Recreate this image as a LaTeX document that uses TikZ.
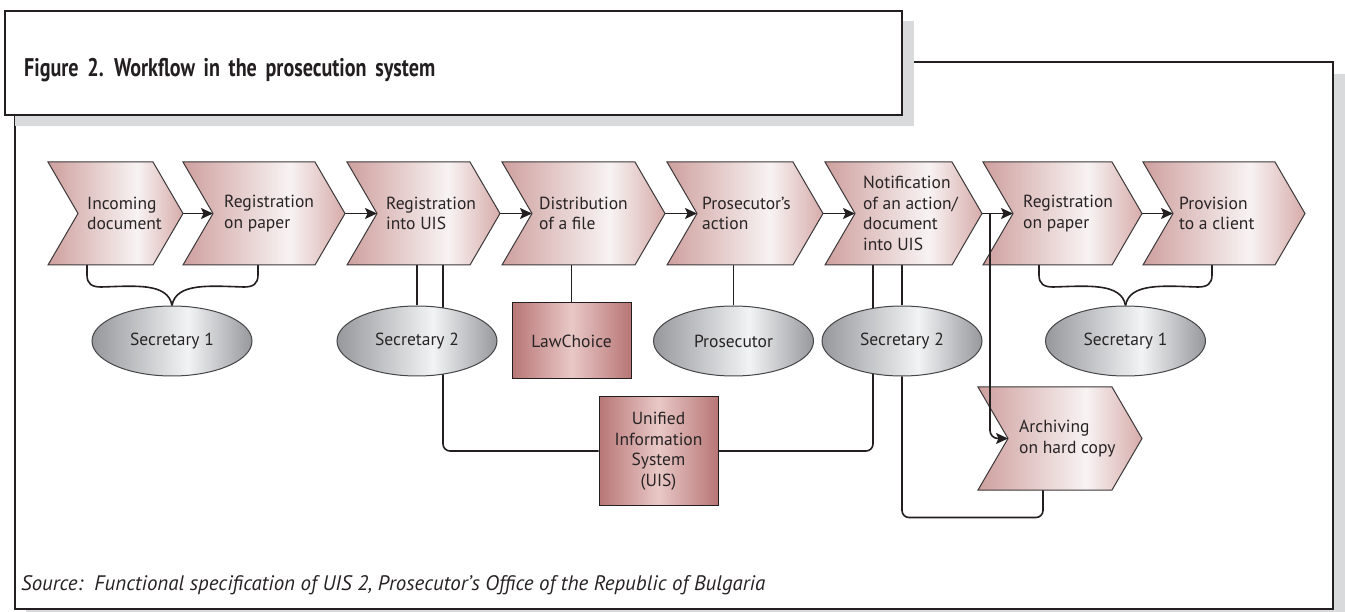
\documentclass[tikz,border=0pt]{standalone}
\usepackage{fontspec}
\setmainfont{PT Sans}
\newfontfamily\titlefont[WordSpace=1.7]{PT Sans}
\usetikzlibrary{shapes.geometric,arrows.meta,backgrounds,calc}
\definecolor{lineC}{RGB}{35,31,32}
\definecolor{textC}{RGB}{40,36,37}
\definecolor{shadowC}{RGB}{217,218,220}
\definecolor{chevL}{RGB}{206,160,158}
\definecolor{chevM}{RGB}{248,243,243}
\definecolor{chevR}{RGB}{214,172,170}
\definecolor{chevO}{RGB}{60,56,57}
\definecolor{boxE}{RGB}{184,118,118}
\definecolor{boxM}{RGB}{232,200,198}
\definecolor{ellE}{RGB}{150,152,156}
\definecolor{ellM}{RGB}{242,243,244}
\definecolor{ellO}{RGB}{70,70,72}
\pgfdeclarehorizontalshading{chevsh}{100bp}{color(0bp)=(chevL); color(25bp)=(chevL); color(58bp)=(chevM); color(75bp)=(chevR); color(100bp)=(chevR)}
\pgfdeclarehorizontalshading{boxsh}{100bp}{color(0bp)=(boxE); color(25bp)=(boxE); color(50bp)=(boxM); color(75bp)=(boxE); color(100bp)=(boxE)}
\pgfdeclarehorizontalshading{ellsh}{100bp}{color(0bp)=(ellE); color(25bp)=(ellE); color(55bp)=(ellM); color(75bp)=(ellE); color(100bp)=(ellE)}
\newcommand\bodyfont{\fontsize{17.5pt}{20.5pt}\selectfont}
\newcommand\mkchev[6]{%
  \node[chevbase, minimum width=#4pt] (#1) at (#2,#3) {};
  \path[chevpath] (#1.north west) -- ([xshift=-30pt]#1.north east) -- (#1.east)
    -- ([xshift=-30pt]#1.south east) -- (#1.south west) -- ([xshift=30pt]#1.west) -- cycle;
  \node[chevtext] (#1t) at ([xshift=#5pt]#1.west) {#6};
}
\begin{document}
\begin{tikzpicture}[x=1pt,y=-1pt,
  conn/.style={draw=lineC, line width=1.6pt},
  flow/.style={conn, -{Stealth[length=12pt,width=11pt,inset=2.5pt]}},
  chevbase/.style={rectangle, inner sep=0pt, outer sep=0pt, minimum height=103pt},
  chevpath/.style={shade, shading=chevsh, draw=chevO, line width=1pt},
  chevtext/.style={align=left, inner sep=0pt, text=textC, font=\bodyfont, anchor=west},
  actor/.style={ellipse, draw=ellO, line width=1pt, shade, shading=ellsh, minimum width=160pt, minimum height=70pt, inner sep=0pt, font=\bodyfont, text=textC},
  sysbox/.style={rectangle, draw=lineC, line width=1pt, shade, shading=boxsh, minimum width=119pt, inner sep=0pt, font=\bodyfont, align=center, text=textC},
  frame/.style={draw=lineC, line width=2pt, fill=white},
  shadow/.style={fill=shadowC, draw=none}]
\useasboundingbox (0,0) rectangle (1345,612);

% chevrons
\mkchev{c1}{115.5}{213.5}{135}{39}{Incoming\\document}
\mkchev{c2}{264}{213.5}{162}{41}{Registration\\on paper}
\mkchev{c3}{423.5}{213.5}{153}{39}{Registration\\into UIS}
\mkchev{c4}{583.5}{213.5}{163}{37}{Distribution\\of a file}
\mkchev{c5}{745}{213.5}{156}{35}{Prosecutor’s\\action}
\mkchev{c6}{903.5}{213.5}{157}{38}{Notification\\of an action/\\document\\into UIS}
\mkchev{c7}{1062.5}{213.5}{159}{40}{Registration\\on paper}
\mkchev{c8}{1224}{213.5}{162}{36}{Provision\\to a client}
\mkchev{c9}{1060}{438.5}{164}{41}{Archiving\\on hard copy}

% actors and systems
\node[actor] (e1) at (172,341) {Secretary 1};
\node[actor] (e2) at (417,341) {Secretary 2};
\node[actor] (e3) at (733.5,341) {Prosecutor};
\node[actor] (e4) at (902,341) {Secretary 2};
\node[actor] (e5) at (1125.5,341) {Secretary 1};
\node[sysbox, minimum height=76pt] (law) at (571.5,341) {LawChoice};
\node[sysbox, minimum height=108pt] (uis) at (658.5,451) {Unified\\Information\\System\\(UIS)};

% texts
\node[anchor=base west, inner sep=0pt, text=lineC] (title) at (24,77)
  {\titlefont\fontsize{25.5pt}{28pt}\selectfont\bfseries\resizebox{411pt}{\height}{Figure 2. Workflow in the prosecution system}};
\node[anchor=base west, inner sep=0pt, text=textC] (src) at (21,590)
  {\fontsize{21pt}{24pt}\selectfont\itshape\resizebox{744pt}{\height}{Source:\ \ Functional specification of UIS 2, Prosecutor’s Office of the Republic of Bulgaria}};

% archiving branch (on top of chevrons)
\coordinate (j) at ([xshift=8pt]c6.east);
\draw[flow, rounded corners=8pt] (j) |- ([xshift=30pt]c9.west);

\begin{pgfonlayer}{background}
  % frames
  \path[shadow] (26,74) rectangle (1352,625);
  \path[frame] (15,62) rectangle (1333,609);
  \path[shadow] (15,21) rectangle (914,126);
  \path[frame] (5,11) rectangle (902,115);
  % flow arrows
  \draw[flow] (c1.east) -- ([xshift=30pt]c2.west);
  \draw[flow] (c2.east) -- ([xshift=30pt]c3.west);
  \draw[flow] (c3.east) -- ([xshift=30pt]c4.west);
  \draw[flow] (c4.east) -- ([xshift=30pt]c5.west);
  \draw[flow] (c5.east) -- ([xshift=30pt]c6.west);
  \draw[flow] (c6.east) -- ([xshift=30pt]c7.west);
  \draw[flow] (c7.east) -- ([xshift=30pt]c8.west);
  % braces
  \draw[conn] ([xshift=39pt]c1.south west) -- ++(0,10) .. controls +(0,9) and +(-9,0) .. ++(14,12)
     .. controls +(34,-1) and +(-4,-23) .. (e1.north);
  \draw[conn] ([xshift=75pt]c2.south west) -- ++(0,10) .. controls +(0,9) and +(9,0) .. ++(-14,12)
     .. controls +(-34,-1) and +(4,-23) .. (e1.north);
  \draw[conn] ([xshift=56pt]c7.south west) -- ++(0,10) .. controls +(0,9) and +(-9,0) .. ++(14,12)
     .. controls +(34,-1) and +(-4,-23) .. (e5.north);
  \draw[conn] ([xshift=69pt]c8.south west) -- ++(0,10) .. controls +(0,9) and +(9,0) .. ++(-14,12)
     .. controls +(-34,-1) and +(4,-23) .. (e5.north);
  % verticals
  \draw[conn] (c3.south -| e2.north) -- (e2.north);
  \draw[conn] (c4.south -| law.north) -- (law.north);
  \draw[conn] (c5.south -| e3.north) -- (e3.north);
  \draw[conn] (c6.south -| e4.north) -- (e4.north);
  % links to UIS
  \draw[conn, rounded corners=7pt] ([xshift=19.5pt]c3.south) |- (uis.west);
  \draw[conn, rounded corners=7pt] ([xshift=-30.5pt]c6.south) |- (uis.east);
  % secretary 2 to archiving
  \draw[conn, rounded corners=7pt] (e4.south) -- ++(0,141) -| ([xshift=65pt]c9.south west);
\end{pgfonlayer}
\end{tikzpicture}
\end{document}
